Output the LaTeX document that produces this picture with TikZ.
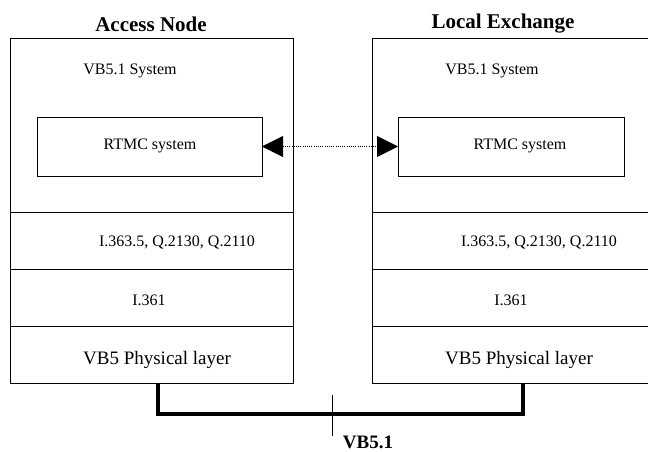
\documentclass[tikz,border=0pt]{standalone}
\usepackage{fontspec}
\setmainfont{Liberation Serif}
\usetikzlibrary{arrows.meta}
\begin{document}
\begin{tikzpicture}[x=1pt,y=-1pt,
  layer/.style={draw,line width=1pt,inner sep=0pt,outer sep=0pt,anchor=north west},
  txt/.style={font=\fontsize{16}{18}\selectfont,inner sep=0pt},
  bigtxt/.style={font=\fontsize{19}{21}\selectfont,inner sep=0pt},
  title/.style={font=\fontsize{21}{24}\selectfont\bfseries,inner sep=0pt},
  bus/.style={line width=4pt},
  bigtip/.tip={Triangle[length=21pt,width=21pt]}]
\path[clip,use as bounding box] (0,0) rectangle (648,452);

% protocol stacks: upper system block and three layers underneath
\foreach \s/\x in {an/10,le/372}{
  \node[layer,minimum width=283pt,minimum height=173pt] (\s-sys) at (\x,39) {};
  \node[layer,minimum width=283pt,minimum height=57pt] (\s-aal) at (\x,212) {};
  \node[layer,minimum width=283pt,minimum height=57pt] (\s-atm) at (\x,269) {};
  \node[layer,minimum width=283pt,minimum height=57pt] (\s-phy) at (\x,326) {};
}

% RTMC boxes inside the system blocks
\node[layer,minimum width=225pt,minimum height=59pt] (an-rtmc) at (37,117) {};
\node[layer,minimum width=226pt,minimum height=59pt] (le-rtmc) at (398,117) {};

% titles
\node[title] (an-title) at (151,24) {Access Node};
\node[title] (le-title) at (503,24) {Local Exchange};

% texts of the Access Node stack
\node[txt] (an-systxt) at (130,71) {VB5.1 System};
\node[txt] (an-rtmctxt) at (150,146) {RTMC system};
\node[txt] (an-aaltxt) at (177,242) {I.363.5, Q.2130, Q.2110};
\node[txt] (an-atmtxt) at (149,300) {I.361};
\node[bigtxt] (an-phytxt) at (157,360) {VB5 Physical layer};

% texts of the Local Exchange stack
\node[txt] (le-systxt) at (492,71) {VB5.1 System};
\node[txt] (le-rtmctxt) at (520,146) {RTMC system};
\node[txt] (le-aaltxt) at (539,242) {I.363.5, Q.2130, Q.2110};
\node[txt] (le-atmtxt) at (511,300) {I.361};
\node[bigtxt] (le-phytxt) at (519,360) {VB5 Physical layer};

% dotted peer relation between the RTMC systems
\draw[line width=1pt,dash pattern=on 1pt off 1.2pt,{bigtip}-{bigtip}]
  (an-rtmc.east) -- (le-rtmc.west);

% VB5.1 interface bus
\coordinate (busl) at (158,414);
\coordinate (busr) at (523,414);
\draw[bus] (an-phy.south -| busl) -- (busl) -- (busr) -- (le-phy.south -| busr);
\coordinate (tickt) at (332,395);
\coordinate (tickb) at (332,436);
\draw[line width=1pt] (tickt) -- (tickb);
\node[title,font=\fontsize{19}{21}\selectfont\bfseries] (vb51) at (368,442) {VB5.1};
\end{tikzpicture}
\end{document}
